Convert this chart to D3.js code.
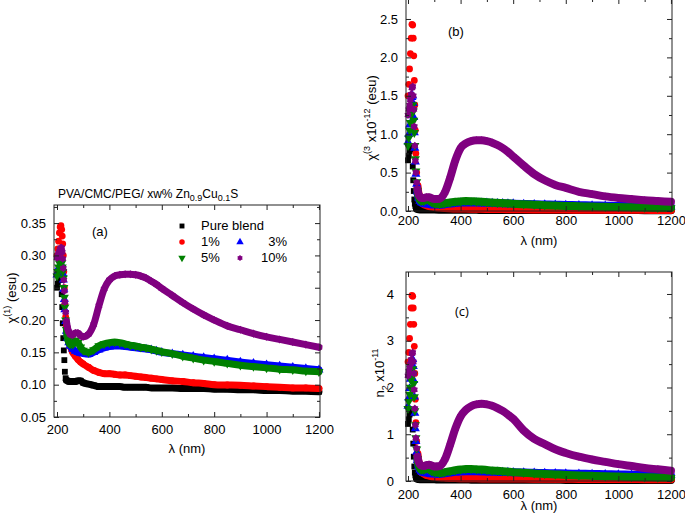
<!DOCTYPE html>
<html><head><meta charset="utf-8">
<script src="https://cdn.jsdelivr.net/npm/d3@7"></script>
<style>
html,body{margin:0;padding:0;background:#fff;}
svg{display:block;font-family:Arial,"Liberation Sans",sans-serif;}
</style></head>
<body>
<svg id="chart" width="685" height="514"></svg>
<script>
// ---------------- DATA ----------------
const lambda = [200,203,206,209,212,215,218,220,222,224,226,228,230,233,236,
  240,245,250,260,270,280,290,300,
  320,340,360,380,400,420,440,460,480,500,520,540,560,580,600,
  640,680,720,760,800,
  850,900,950,1000,1050,1100,1150,1200];

const seriesNames = ["Pure blend","1%","3%","5%","10%"];

// panel (a): chi(1) (esu)
const chi1Pure = [0.250,0.256,0.262,0.265,0.265,0.262,0.240,0.220,0.195,0.172,0.153,0.138,0.120,0.110,0.107,
  0.106,0.105,0.105,0.105,0.105,0.106,0.106,0.103,
  0.101,0.099,0.097,0.097,0.097,0.097,0.097,0.096,0.096,0.096,0.096,0.096,0.095,0.095,0.095,
  0.095,0.094,0.094,0.094,0.093,
  0.093,0.092,0.092,0.091,0.091,0.090,0.090,0.089];
const chi1P1 = [0.300,0.310,0.322,0.335,0.344,0.346,0.340,0.330,0.318,0.300,0.275,0.250,0.225,0.205,0.190,
  0.177,0.166,0.160,0.150,0.144,0.139,0.135,0.132,
  0.127,0.122,0.119,0.117,0.117,0.116,0.115,0.115,0.114,0.113,0.112,0.111,0.110,0.109,0.108,
  0.106,0.105,0.103,0.102,0.100,
  0.0995,0.099,0.098,0.097,0.096,0.095,0.095,0.094];
const chi1P3 = [0.270,0.275,0.280,0.283,0.285,0.287,0.285,0.280,0.272,0.262,0.248,0.232,0.216,0.198,0.183,
  0.172,0.165,0.160,0.155,0.152,0.150,0.149,0.148,
  0.147,0.150,0.154,0.157,0.159,0.160,0.160,0.159,0.158,0.157,0.156,0.155,0.154,0.152,0.150,
  0.148,0.146,0.144,0.142,0.140,
  0.138,0.135,0.133,0.131,0.129,0.127,0.125,0.123];
const chi1P5 = [0.268,0.275,0.282,0.288,0.292,0.292,0.288,0.282,0.275,0.265,0.250,0.235,0.220,0.200,0.185,
  0.172,0.165,0.162,0.162,0.168,0.165,0.158,0.153,
  0.150,0.154,0.160,0.163,0.165,0.166,0.165,0.163,0.161,0.160,0.158,0.157,0.155,0.153,0.151,
  0.148,0.144,0.141,0.138,0.136,
  0.133,0.130,0.128,0.126,0.124,0.123,0.121,0.120];
const chi1P10 = [0.296,0.300,0.303,0.306,0.310,0.312,0.312,0.305,0.295,0.280,0.262,0.245,0.228,0.212,0.198,
  0.188,0.182,0.178,0.177,0.180,0.180,0.176,0.174,
  0.178,0.193,0.222,0.248,0.262,0.268,0.270,0.271,0.271,0.270,0.268,0.265,0.260,0.255,0.249,
  0.238,0.227,0.217,0.208,0.200,
  0.191,0.185,0.179,0.174,0.170,0.166,0.162,0.158];

// panel (b): chi(3) x10^-12 (esu)
const chi3Pure = [0.66,0.72,0.78,0.82,0.84,0.80,0.58,0.40,0.26,0.15,0.095,0.065,0.040,0.028,0.024,
  0.022,0.021,0.021,0.021,0.021,0.021,0.021,0.019,
  0.017,0.016,0.015,0.015,0.015,0.015,0.015,0.015,0.014,0.014,0.014,0.014,0.014,0.014,0.014,
  0.014,0.013,0.013,0.013,0.013,
  0.013,0.012,0.012,0.012,0.012,0.011,0.011,0.011];
const chi3P1 = [1.50,1.65,1.85,2.05,2.25,2.43,2.42,2.25,2.02,1.70,1.38,1.05,0.75,0.50,0.33,
  0.22,0.16,0.12,0.09,0.075,0.065,0.058,0.052,
  0.045,0.040,0.036,0.033,0.032,0.031,0.030,0.029,0.028,0.027,0.026,0.025,0.025,0.024,0.023,
  0.022,0.021,0.020,0.019,0.018,
  0.017,0.017,0.016,0.016,0.015,0.015,0.014,0.014];
const chi3P3 = [0.90,1.00,1.12,1.25,1.38,1.48,1.50,1.40,1.22,1.02,0.82,0.64,0.48,0.35,0.25,
  0.17,0.13,0.11,0.10,0.095,0.090,0.085,0.083,
  0.081,0.088,0.097,0.105,0.110,0.112,0.112,0.110,0.108,0.106,0.104,0.102,0.100,0.098,0.096,
  0.092,0.088,0.085,0.082,0.079,
  0.076,0.072,0.069,0.066,0.063,0.060,0.057,0.055];
const chi3P5 = [0.85,0.95,1.05,1.15,1.25,1.32,1.38,1.30,1.18,1.02,0.85,0.68,0.52,0.38,0.27,
  0.19,0.15,0.13,0.13,0.15,0.14,0.115,0.100,
  0.090,0.100,0.110,0.120,0.125,0.130,0.128,0.124,0.120,0.115,0.110,0.107,0.103,0.100,0.095,
  0.088,0.082,0.076,0.071,0.066,
  0.062,0.058,0.054,0.051,0.048,0.045,0.043,0.041];
const chi3P10 = [1.25,1.32,1.38,1.45,1.52,1.60,1.62,1.50,1.32,1.10,0.85,0.65,0.50,0.37,0.28,
  0.22,0.19,0.17,0.17,0.18,0.18,0.165,0.155,
  0.16,0.24,0.43,0.66,0.82,0.88,0.91,0.92,0.92,0.91,0.89,0.86,0.82,0.77,0.71,
  0.59,0.48,0.40,0.34,0.30,
  0.25,0.22,0.19,0.17,0.155,0.14,0.13,0.12];

// panel (c): n2 x10^-11
const n2Pure = [1.22,1.32,1.42,1.48,1.50,1.45,1.10,0.80,0.52,0.31,0.18,0.12,0.08,0.055,0.045,
  0.040,0.038,0.038,0.037,0.037,0.037,0.036,0.035,
  0.033,0.032,0.031,0.030,0.030,0.030,0.029,0.029,0.029,0.028,0.028,0.028,0.027,0.027,0.027,
  0.026,0.026,0.025,0.025,0.024,
  0.024,0.023,0.023,0.022,0.022,0.021,0.021,0.020];
const n2P1 = [2.55,2.75,3.05,3.35,3.70,3.97,3.95,3.70,3.35,2.88,2.30,1.75,1.25,0.85,0.58,
  0.40,0.28,0.21,0.16,0.13,0.115,0.100,0.092,
  0.080,0.072,0.066,0.062,0.060,0.059,0.058,0.057,0.056,0.055,0.054,0.054,0.053,0.053,0.052,
  0.051,0.050,0.049,0.047,0.046,
  0.045,0.044,0.043,0.042,0.041,0.040,0.039,0.038];
const n2P3 = [1.60,1.78,1.98,2.18,2.38,2.55,2.60,2.45,2.15,1.80,1.45,1.12,0.85,0.62,0.44,
  0.31,0.24,0.20,0.185,0.175,0.165,0.160,0.155,
  0.152,0.165,0.180,0.195,0.205,0.210,0.210,0.208,0.205,0.200,0.197,0.195,0.192,0.190,0.186,
  0.180,0.175,0.170,0.165,0.160,
  0.155,0.150,0.145,0.140,0.135,0.130,0.125,0.120];
const n2P5 = [1.55,1.70,1.85,2.00,2.15,2.30,2.40,2.28,2.08,1.80,1.50,1.20,0.92,0.68,0.48,
  0.34,0.27,0.24,0.24,0.27,0.25,0.21,0.19,
  0.17,0.19,0.21,0.23,0.245,0.255,0.255,0.25,0.245,0.235,0.225,0.218,0.21,0.20,0.19,
  0.175,0.16,0.15,0.14,0.13,
  0.12,0.11,0.10,0.095,0.088,0.082,0.077,0.072];
const n2P10 = [2.25,2.35,2.42,2.50,2.60,2.72,2.75,2.55,2.30,1.95,1.55,1.20,0.92,0.70,0.52,
  0.42,0.36,0.33,0.32,0.34,0.35,0.33,0.31,
  0.32,0.46,0.77,1.12,1.38,1.52,1.60,1.64,1.65,1.64,1.61,1.56,1.50,1.42,1.33,
  1.08,0.90,0.79,0.68,0.60,
  0.52,0.46,0.41,0.36,0.32,0.28,0.25,0.22];

// tick labels
const xTickValues = [200,400,600,800,1000,1200];
const xMinorValues = [300,500,700,900,1100];
const yTicksA = [0.05,0.10,0.15,0.20,0.25,0.30,0.35];
const yMinorA = [0.075,0.125,0.175,0.225,0.275,0.325,0.375];
const yTicksB = [0.0,0.5,1.0,1.5,2.0,2.5];
const yMinorB = [0.25,0.75,1.25,1.75,2.25];
const yTicksC = [0,1,2,3,4];
const yMinorC = [0.5,1.5,2.5,3.5];

// ---------------- STYLE ----------------
const colors = ["#000000","#ff0000","#0000ff","#008000","#800080"];
// chubby six-point star (Origin-like) for the 10% series
const symbolHexStar = {
  draw(ctx, size) {
    const R = Math.sqrt(size) * 0.62, r = R * 0.72;
    for (let k = 0; k < 12; k++) {
      const a = -Math.PI / 2 + k * Math.PI / 6;
      const rad = k % 2 ? r : R;
      const px = rad * Math.cos(a), py = rad * Math.sin(a);
      if (k === 0) ctx.moveTo(px, py); else ctx.lineTo(px, py);
    }
    ctx.closePath();
  }
};
const symbols = [d3.symbolSquare, d3.symbolCircle, d3.symbolTriangle, d3.symbolTriangle, symbolHexStar];
const symSizes = [34, 36, 36, 36, 42];
const FONT = 'Arial, "Liberation Sans", sans-serif';

const svg = d3.select("#chart");

function drawPanel(p) {
  const x = d3.scaleLinear().domain(p.xDomain).range([p.left, p.right]);
  const y = d3.scaleLinear().domain(p.yDomain).range([p.bottom, p.top]);
  const g = svg.append("g");

  p.series.forEach((vals, i) => {
    const pts = lambda.map((l, k) => [l, vals[k]]);
    g.append("path")
      .datum(pts.filter(d => d[0] >= 236))
      .attr("d", d3.line().x(d => x(d[0])).y(d => y(d[1])).curve(d3.curveMonotoneX))
      .attr("fill", "none").attr("stroke", colors[i])
      .attr("stroke-width", p.band).attr("stroke-linejoin", "round").attr("stroke-linecap", "round");
    g.selectAll(null).data(pts).enter().append("path")
      .attr("transform", d => `translate(${x(d[0])},${y(d[1])})` + (i === 3 ? " rotate(180)" : ""))
      .attr("d", d3.symbol(symbols[i], symSizes[i]))
      .attr("fill", colors[i]);
  });

  const styleAxis = sel => {
    sel.attr("font-size", 13).attr("font-family", FONT);
    sel.selectAll(".domain").remove();
    sel.selectAll("line").attr("stroke", "#222");
    sel.selectAll("text").attr("fill", "#000");
  };
  // bottom
  g.append("g").attr("transform", `translate(0,${p.bottom})`)
    .call(d3.axisBottom(x).tickValues(xTickValues).tickSize(-5).tickSizeOuter(0).tickPadding(p.xPad).tickFormat(d3.format("d")))
    .call(styleAxis);
  g.append("g").attr("transform", `translate(0,${p.bottom})`)
    .call(d3.axisBottom(x).tickValues(xMinorValues).tickSize(-3).tickFormat(""))
    .call(styleAxis);
  // top
  g.append("g").attr("transform", `translate(0,${p.top})`)
    .call(d3.axisTop(x).tickValues(xTickValues).tickSize(-5).tickFormat(""))
    .call(styleAxis);
  g.append("g").attr("transform", `translate(0,${p.top})`)
    .call(d3.axisTop(x).tickValues(xMinorValues).tickSize(-3).tickFormat(""))
    .call(styleAxis);
  // left
  g.append("g").attr("transform", `translate(${p.left},0)`)
    .call(d3.axisLeft(y).tickValues(p.yTicks).tickSize(-5).tickPadding(p.yPad).tickFormat(p.yFormat))
    .call(styleAxis);
  g.append("g").attr("transform", `translate(${p.left},0)`)
    .call(d3.axisLeft(y).tickValues(p.yMinor.filter(v => v < p.yDomain[1])).tickSize(-3).tickFormat(""))
    .call(styleAxis);
  // right
  g.append("g").attr("transform", `translate(${p.right},0)`)
    .call(d3.axisRight(y).tickValues(p.yTicks).tickSize(-5).tickFormat(""))
    .call(styleAxis);
  g.append("g").attr("transform", `translate(${p.right},0)`)
    .call(d3.axisRight(y).tickValues(p.yMinor.filter(v => v < p.yDomain[1])).tickSize(-3).tickFormat(""))
    .call(styleAxis);
  // frame
  g.append("rect").attr("x", p.left).attr("y", p.top)
    .attr("width", p.right - p.left).attr("height", p.bottom - p.top)
    .attr("fill", "none").attr("stroke", "#222").attr("stroke-width", 1);

  // x label
  g.append("text").attr("x", (p.left + p.right) / 2).attr("y", p.xLabelY)
    .attr("text-anchor", "middle").attr("font-size", 13).attr("font-family", FONT)
    .text("λ (nm)");
  // y label
  const yl = g.append("text")
    .attr("transform", `translate(${p.yLabelX},${p.yLabelY}) rotate(-90)`)
    .attr("text-anchor", "middle").attr("font-size", 13).attr("font-family", FONT);
  p.yLabel.forEach(part => {
    const t = yl.append("tspan").text(part.t);
    if (part.sup) t.attr("font-size", 9).attr("dy", -6);
    if (part.sub) t.attr("font-size", 9).attr("dy", 4);
    if (part.back) t.attr("dy", part.back);
  });
  // panel tag
  g.append("text").attr("x", p.tagX).attr("y", p.tagY)
    .attr("font-size", 13).attr("font-family", p.tagFont || FONT).text(p.tag);
  return {x, y, g};
}

// panel (a)
drawPanel({
  left: 54, right: 320, top: 205, bottom: 417,
  xDomain: [188.5, 1204], yDomain: [0.05, 0.378],
  yTicks: yTicksA, yMinor: yMinorA, yFormat: d3.format(".2f"),
  series: [chi1Pure, chi1P1, chi1P3, chi1P5, chi1P10], band: 7,
  xPad: 8, yPad: 8, xLabelY: 453, yLabelX: 16, yLabelY: 298,
  yLabel: [{t: "χ"}, {t: "(1)", sup: true}, {t: " (esu)", back: 6}],
  tag: "(a)", tagX: 92, tagY: 236
});

// panel (b)
drawPanel({
  left: 406, right: 672, top: -1, bottom: 211,
  xDomain: [192.4, 1204], yDomain: [0, 2.76],
  yTicks: yTicksB, yMinor: yMinorB, yFormat: d3.format(".1f"),
  series: [chi3Pure, chi3P1, chi3P3, chi3P5, chi3P10], band: 8,
  xPad: 5, yPad: 8, xLabelY: 245, yLabelX: 376, yLabelY: 118,
  yLabel: [{t: "χ"}, {t: "(3", sup: true}, {t: " x10", back: 6}, {t: "-12", sup: true}, {t: " (esu)", back: 6}],
  tag: "(b)", tagX: 448, tagY: 36
});

// panel (c)
drawPanel({
  left: 406, right: 672, top: 272, bottom: 481,
  xDomain: [192.4, 1204], yDomain: [0, 4.47],
  yTicks: yTicksC, yMinor: yMinorC, yFormat: d3.format("d"),
  series: [n2Pure, n2P1, n2P3, n2P5, n2P10], band: 8,
  xPad: 9, yPad: 12, xLabelY: 510, yLabelX: 384, yLabelY: 373,
  yLabel: [{t: "n"}, {t: "2", sub: true}, {t: " x10", back: -4}, {t: "-11", sup: true}],
  tag: "(c)", tagX: 455, tagY: 316, tagFont: '"Open Sans", sans-serif'
});

// title of panel (a)
const title = svg.append("text").attr("x", 58).attr("y", 198)
  .attr("font-size", 12).attr("font-family", FONT);
title.append("tspan").text("PVA/CMC/PEG/ xw% Zn");
title.append("tspan").text("0.9").attr("font-size", 9).attr("dy", 3);
title.append("tspan").text("Cu").attr("dy", -3);
title.append("tspan").text("0.1").attr("font-size", 9).attr("dy", 3);
title.append("tspan").text("S").attr("dy", -3);

// legend of panel (a)
const legendPos = [
  {mx: 182, my: 226, tx: 201, ty: 230, anchor: "start"},
  {mx: 182, my: 242, tx: 201, ty: 246, anchor: "start"},
  {mx: 240, my: 242, tx: 287, ty: 246, anchor: "end"},
  {mx: 182, my: 258, tx: 201, ty: 262, anchor: "start"},
  {mx: 240, my: 258, tx: 287, ty: 262, anchor: "end"}
];
const legend = svg.append("g");
seriesNames.forEach((name, i) => {
  const lp = legendPos[i];
  legend.append("path")
    .attr("transform", `translate(${lp.mx},${lp.my})` + (i === 3 ? " rotate(180)" : ""))
    .attr("d", d3.symbol(symbols[i], 24)).attr("fill", colors[i]);
  legend.append("text").attr("x", lp.tx).attr("y", lp.ty).attr("text-anchor", lp.anchor)
    .attr("font-size", 13).attr("font-family", FONT).text(name);
});
</script>
</body></html>
